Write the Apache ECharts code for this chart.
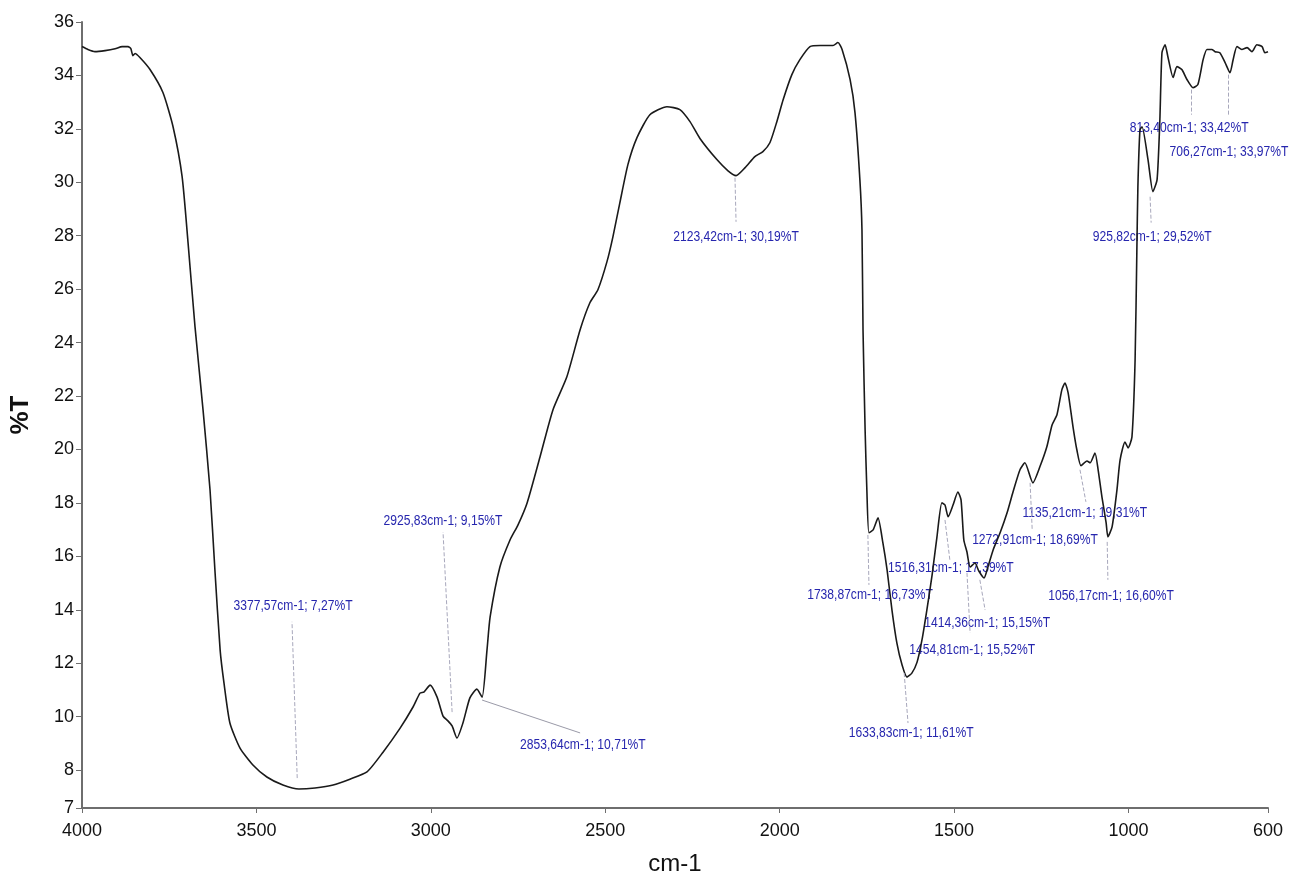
<!DOCTYPE html>
<html>
<head>
<meta charset="utf-8">
<script src="https://cdn.jsdelivr.net/npm/echarts@6/dist/echarts.min.js"></script>
<style>
  html, body { margin: 0; padding: 0; background: #fff; }
  #main { width: 1293px; height: 875px; }
</style>
</head>
<body>
<div id="main"></div>
<script>
// spectrum: wavenumber (cm-1) and transmittance (%T)
var wavenumber = [
  4000, 3983, 3963, 3934, 3905, 3885, 3868, 3860, 3854, 3848, 3834, 3805, 3768, 3739, 3713,
  3696, 3676, 3653, 3633, 3619, 3604, 3593, 3576, 3547, 3510, 3470, 3424, 3378, 3332, 3280,
  3232, 3183, 3137, 3088, 3051, 3031, 3020, 3002, 2982, 2965, 2951, 2939, 2925, 2908, 2888,
  2868, 2853, 2839, 2830, 2802, 2773, 2750, 2724, 2687, 2650, 2610, 2572, 2544, 2521, 2495,
  2478, 2458, 2435, 2409, 2372, 2323, 2286, 2257, 2228, 2180, 2148, 2125, 2099, 2071, 2048,
  2028, 2008, 1990, 1965, 1942, 1913, 1884, 1847, 1833, 1821, 1798, 1784, 1770, 1764, 1761,
  1755, 1750, 1744, 1732, 1718, 1704, 1692, 1678, 1664, 1649, 1635, 1621, 1606, 1592, 1578,
  1563, 1549, 1535, 1526, 1517, 1503, 1489, 1480, 1472, 1463, 1454, 1440, 1429, 1414, 1403,
  1388, 1368, 1348, 1331, 1311, 1297, 1274, 1254, 1234, 1219, 1205, 1191, 1182, 1173, 1159,
  1148, 1136, 1119, 1110, 1096, 1087, 1076, 1064, 1059, 1047, 1033, 1024, 1010, 1001, 990,
  981, 976, 973, 967, 961, 944, 930, 918, 910, 904, 895, 887, 872, 861, 847,
  832, 815, 801, 786, 775, 761, 752, 738, 723, 709, 700, 689, 675, 660, 646,
  632, 617, 609, 600
];
var transmittance = [
  35.08, 34.97, 34.89, 34.93, 35.00, 35.08, 35.08, 35.00, 34.74, 34.82, 34.67, 34.22, 33.36, 32.08, 30.21,
  27.74, 24.59, 21.48, 18.49, 15.49, 12.49, 11.26, 9.76, 8.82, 8.19, 7.74, 7.44, 7.29, 7.33, 7.44,
  7.66, 7.93, 8.67, 9.57, 10.36, 10.88, 10.92, 11.18, 10.73, 10.02, 9.84, 9.65, 9.20, 9.76, 10.70,
  11.03, 10.73, 12.49, 13.73, 15.60, 16.61, 17.18, 18.00, 19.72, 21.48, 22.72, 24.48, 25.49, 25.98, 27.03,
  27.96, 29.24, 30.66, 31.67, 32.53, 32.83, 32.72, 32.27, 31.63, 30.85, 30.43, 30.25, 30.55, 30.96, 31.15,
  31.48, 32.27, 33.09, 34.03, 34.59, 35.08, 35.12, 35.12, 35.23, 34.97, 33.84, 32.61, 30.10, 28.22, 24.48,
  20.73, 18.49, 16.88, 16.99, 17.44, 16.50, 15.49, 13.99, 12.76, 11.93, 11.48, 11.63, 12.04, 12.87, 13.99,
  15.30, 16.73, 18.00, 17.92, 17.48, 17.92, 18.41, 18.11, 16.61, 16.16, 15.60, 15.75, 15.45, 15.19, 15.60,
  16.24, 16.88, 17.63, 18.41, 19.24, 19.50, 18.75, 19.35, 20.10, 20.92, 21.30, 22.23, 22.49, 22.12, 20.85,
  19.99, 19.39, 19.57, 19.50, 19.87, 19.24, 18.22, 17.25, 16.73, 17.10, 18.49, 19.61, 20.28, 20.06, 20.47,
  23.36, 27.40, 29.83, 31.97, 32.08, 30.85, 29.65, 30.10, 32.34, 34.85, 35.15, 34.70, 33.92, 34.33, 34.22,
  33.84, 33.54, 33.66, 34.59, 34.97, 34.97, 34.89, 34.85, 34.48, 34.10, 34.59, 35.08, 34.97, 35.04, 34.89,
  35.15, 35.08, 34.85, 34.89
];

// picked peaks
var peakWn = [3377.57, 2925.83, 2853.64, 2123.42, 1738.87, 1633.83, 1516.31, 1454.81, 1414.36, 1272.91, 1135.21, 1056.17, 925.82, 813.40, 706.27];
var peakT = [7.27, 9.15, 10.71, 30.19, 16.73, 11.61, 17.39, 15.52, 15.15, 18.69, 19.31, 16.60, 29.52, 33.42, 33.97];

// tick labels
var xTicks = [4000, 3500, 3000, 2500, 2000, 1500, 1000, 600];
var yTicks = [6.58, 8, 10, 12, 14, 16, 18, 20, 22, 24, 26, 28, 30, 32, 34, 36];

// annotation layout (in axis units): label centre, leader from -> to
var labelAt = [
  [3395, 14.14], [2965, 17.33], [2564, 8.94], [2125, 27.96], [1741, 14.55],
  [1623, 9.39], [1509, 15.57], [1448, 12.49], [1405, 13.50], [1268, 16.61],
  [1125, 17.62], [1050, 14.52], [932, 27.96], [826, 32.04], [712, 31.14]
];
var leaderFrom = [
  [3383, 7.7], [2939, 10.17], [2853, 10.62], [2128, 30.17], [1747, 16.8],
  [1643, 11.63], [1526, 17.36], [1463, 15.38], [1426, 15.12], [1282, 18.75],
  [1139, 19.24], [1061, 16.54], [938, 29.46], [821, 33.47], [715, 34.03]
];
var leaderTo = [
  [3398, 13.55], [2965, 16.91], [2572, 9.39], [2125, 28.52], [1744, 14.93],
  [1632, 9.76], [1512, 15.86], [1454, 13.13], [1411, 13.99], [1276, 16.99],
  [1122, 18.04], [1059, 15.12], [935, 28.49], [821, 32.53], [715, 32.46]
];

function fmt(v) {
  return v.toFixed(2).replace('.', ',');
}

var lineData = [];
for (var i = 0; i < wavenumber.length; i++) {
  lineData.push([wavenumber[i], transmittance[i]]);
}

var leaders = [];
for (var k = 0; k < peakWn.length; k++) {
  var solid = peakWn[k] === 2853.64;
  leaders.push([
    { coord: leaderFrom[k], lineStyle: { type: solid ? 'solid' : 'dashed', color: solid ? '#9a9aa8' : '#a8a8bc' } },
    { coord: leaderTo[k] }
  ]);
}

var font = '"Liberation Sans Narrow", "Liberation Sans", Arial, sans-serif';

var chart = echarts.init(document.getElementById('main'));
chart.setOption({
  animation: false,
  backgroundColor: '#fff',
  grid: { left: 82, right: 25, top: 22, bottom: 67, containLabel: false, outerBoundsMode: 'none' },
  xAxis: {
    type: 'value',
    min: 600,
    max: 4000,
    inverse: true,
    name: 'cm-1',
    nameLocation: 'middle',
    nameGap: 44,
    nameTextStyle: { fontSize: 24, color: '#111', fontFamily: font },
    axisLine: { lineStyle: { color: '#6e6e6e', width: 2 } },
    axisTick: { show: true, customValues: xTicks, length: 5, lineStyle: { color: '#6e6e6e' } },
    axisLabel: {
      customValues: xTicks, fontSize: 18, color: '#111', fontFamily: font, margin: 14,
      formatter: function (v) { return String(v); }
    },
    splitLine: { show: false }
  },
  yAxis: {
    type: 'value',
    min: 6.58,
    max: 36,
    name: '%T',
    nameLocation: 'middle',
    nameGap: 48,
    nameRotate: 90,
    nameTextStyle: { fontSize: 26, fontWeight: 'bold', color: '#111', fontFamily: font },
    axisLine: { show: true, lineStyle: { color: '#6e6e6e', width: 2 } },
    axisTick: { show: true, customValues: yTicks, length: 6, lineStyle: { color: '#6e6e6e' } },
    axisLabel: {
      customValues: yTicks,
      fontSize: 18,
      color: '#111',
      fontFamily: font,
      margin: 8,
      formatter: function (v) { return String(Math.round(v)); }
    },
    splitLine: { show: false }
  },
  series: [
    {
      type: 'line',
      data: lineData,
      showSymbol: false,
      smooth: 0.2,
      lineStyle: { color: '#1a1a1a', width: 1.6 },
      silent: true,
      markLine: {
        silent: true,
        symbol: 'none',
        label: { show: false },
        lineStyle: { width: 1, type: 'dashed', color: '#a8a8bc' },
        data: leaders
      }
    }
  ]
});

// peak labels: condensed text placed through the chart's own scales
var texts = [];
for (var m = 0; m < peakWn.length; m++) {
  var p = chart.convertToPixel({ seriesIndex: 0 }, labelAt[m]);
  texts.push({
    type: 'text',
    x: p[0],
    y: p[1],
    scaleX: 0.78,
    silent: true,
    style: {
      text: fmt(peakWn[m]) + 'cm-1; ' + fmt(peakT[m]) + '%T',
      fill: '#2626ae',
      font: '15.5px "Liberation Sans", Arial, sans-serif',
      align: 'center',
      verticalAlign: 'middle'
    }
  });
}
chart.setOption({ graphic: texts });
</script>
</body>
</html>
